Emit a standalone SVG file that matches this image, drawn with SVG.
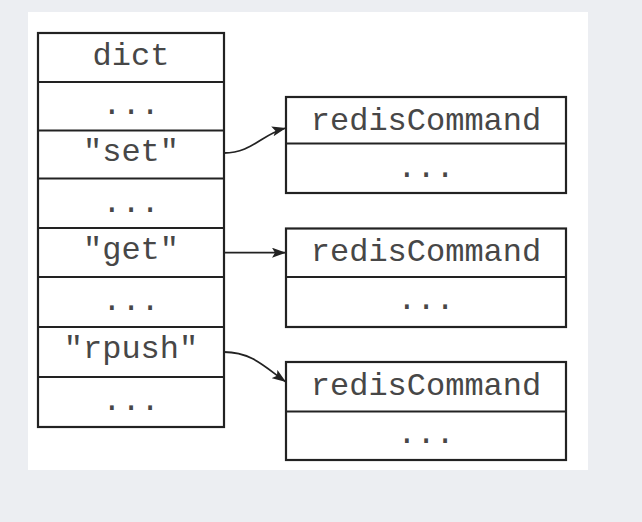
<svg xmlns="http://www.w3.org/2000/svg" width="642" height="522" viewBox="0 0 642 522">
<style>
.box{fill:#fff;stroke:#222;stroke-width:2.2}
.ln{stroke:#222;stroke-width:2.2}
.t{font-family:"Liberation Mono","DejaVu Sans Mono",monospace;font-size:32px;fill:#474747;text-anchor:middle}
.c{fill:none;stroke:#222;stroke-width:1.8}
</style>
<defs>
<marker id="ah" viewBox="0 0 14 10" refX="14" refY="5" markerWidth="14" markerHeight="10" markerUnits="userSpaceOnUse" orient="auto">
<path d="M0,0 L14,5 L0,10 L3,5 Z" fill="#222"/>
</marker>
</defs>
<rect width="642" height="522" fill="#eceef2"/>
<rect x="28" y="12" width="560" height="458" fill="#fff"/>
<g id="dict">
<rect class="box" x="38" y="33" width="186" height="394"/>
<line class="ln" x1="38" y1="82" x2="224" y2="82"/>
<line class="ln" x1="38" y1="130.5" x2="224" y2="130.5"/>
<line class="ln" x1="38" y1="178.5" x2="224" y2="178.5"/>
<line class="ln" x1="38" y1="228" x2="224" y2="228"/>
<line class="ln" x1="38" y1="277" x2="224" y2="277"/>
<line class="ln" x1="38" y1="327" x2="224" y2="327"/>
<line class="ln" x1="38" y1="377" x2="224" y2="377"/>
<text class="t" x="131" y="65">dict</text>
<text class="t" x="131" y="114">...</text>
<text class="t" x="131" y="161">"set"</text>
<text class="t" x="131" y="212">...</text>
<text class="t" x="131" y="259">"get"</text>
<text class="t" x="131" y="310">...</text>
<text class="t" x="131" y="358">"rpush"</text>
<text class="t" x="131" y="410">...</text>
</g>
<g id="cmd1">
<rect class="box" x="286" y="97" width="280" height="96"/>
<line class="ln" x1="286" y1="143.5" x2="566" y2="143.5"/>
<text class="t" x="426" y="129.5">redisCommand</text>
<text class="t" x="426" y="176.5">...</text>
</g>
<g id="cmd2">
<rect class="box" x="286" y="228.5" width="280" height="98.5"/>
<line class="ln" x1="286" y1="277" x2="566" y2="277"/>
<text class="t" x="426" y="261">redisCommand</text>
<text class="t" x="426" y="309">...</text>
</g>
<g id="cmd3">
<rect class="box" x="286" y="362" width="280" height="98"/>
<line class="ln" x1="286" y1="411.5" x2="566" y2="411.5"/>
<text class="t" x="426" y="395">redisCommand</text>
<text class="t" x="426" y="443">...</text>
</g>
<g id="connectors">
<path class="c" d="M224,153 C252,153 262,134 286,128" marker-end="url(#ah)"/>
<path class="c" d="M224,252.7 L286,252.7" marker-end="url(#ah)"/>
<path class="c" d="M224,352 C252,352 266,368 286,382" marker-end="url(#ah)"/>
</g>
</svg>
